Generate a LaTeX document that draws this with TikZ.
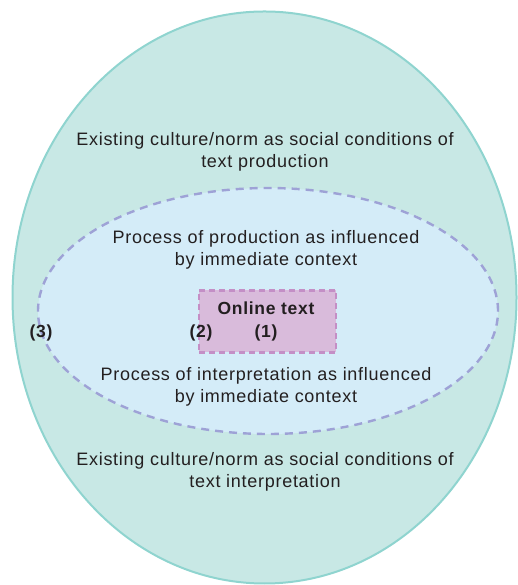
\documentclass[tikz,border=0pt]{standalone}
\usepackage{fontspec}
\setmainfont{Liberation Sans}[LetterSpace=4]
\usetikzlibrary{shapes.geometric}
\definecolor{outerfill}{HTML}{C8E8E5}
\definecolor{outerline}{HTML}{8FD4CF}
\definecolor{innerfill}{HTML}{D4ECF8}
\definecolor{innerline}{HTML}{9EA2D6}
\definecolor{boxfill}{HTML}{D9BBDB}
\definecolor{boxline}{HTML}{C48FC6}
\definecolor{txt}{HTML}{231F20}
\tikzset{
  lbl/.style={text=txt, font=\fontsize{18}{22.5}\selectfont, align=center, inner sep=0pt},
  num/.style={text=txt, font=\fontsize{17.5}{20}\selectfont\bfseries, inner sep=0pt},
}
\begin{document}
\begin{tikzpicture}[x=1pt,y=1pt]
\useasboundingbox (0,0) rectangle (517,585);
\node[ellipse, draw=outerline, line width=2pt, fill=outerfill, minimum width=504pt, minimum height=572pt, inner sep=0pt] (outer) at (264.5,287.5) {};
\node[ellipse, draw=innerline, line width=2.4pt, dash pattern=on 8pt off 6pt, fill=innerfill, minimum width=460pt, minimum height=246pt, inner sep=0pt] (inner) at (268,274) {};
\node[rectangle, draw=boxline, line width=2.2pt, dash pattern=on 6pt off 4pt, fill=boxfill, minimum width=137pt, minimum height=62pt, inner sep=0pt] (box) at (267.5,263.5) {};
\node[lbl] (t1) at (265,433) {Existing culture/norm as social conditions of\\text production};
\node[lbl] (t2) at (266,335) {Process of production as influenced\\by immediate context};
\node[num] (online) at (266,277) {Online text};
\node[num] (n2) at (201,252) {(2)};
\node[num] (n1) at (266,252) {(1)};
\node[num] (n3) at (41,252) {(3)};
\node[lbl] (t3) at (266,198) {Process of interpretation as influenced\\by immediate context};
\node[lbl] (t4) at (265,113) {Existing culture/norm as social conditions of\\text interpretation};
\end{tikzpicture}
\end{document}
